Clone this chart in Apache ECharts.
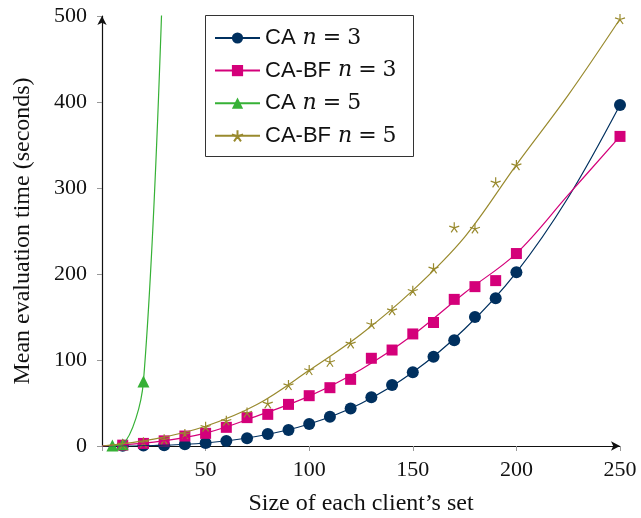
<!DOCTYPE html>
<html>
<head>
<meta charset="utf-8">
<script src="https://cdn.jsdelivr.net/npm/echarts@6/dist/echarts.min.js"></script>
<style>
  html, body { margin: 0; padding: 0; background: #fff; }
  #chart { width: 641px; height: 518px; }
</style>
</head>
<body>
<div id="chart"></div>
<script>
// 标记点：x（每个客户端集合大小）
const sizesN3 = [10, 20, 30, 40, 50, 60, 70, 80, 90, 100, 110, 120, 130, 140, 150, 160, 170, 180, 190, 200, 250]
const sizesN5 = [5, 10, 20, 30]

// 标记点：平均评估时间（秒）
const caN3 = [0.3, 0.5, 0.8, 2, 3.5, 5.8, 8.9, 14, 18.6, 25.6, 34, 43.6, 56.6, 70.8, 85.7, 103.8, 123, 150, 171.7, 202, 396.5]
const bfN3 = [1, 3, 6, 11.6, 14.7, 21.7, 33, 36.8, 48.4, 58.5, 67.8, 77.5, 102, 111.6, 130.3, 143.6, 170.5, 185.3, 192.3, 223.8, 360]
const caN5 = [0.5, 2, 75, 600]
const bfN5 = [2, 4.3, 7.8, 14, 22.5, 29.5, 39, 49.6, 70.9, 88.4, 98, 119.4, 141.9, 158, 180.6, 206.6, 254.3, 253, 306.6, 326.7, 496.5]

// 曲线（从图上读取的平滑曲线位置）
const curveXs = [0, 25, 50, 75, 100, 125, 150, 175, 200, 225, 250]
const curveCaN3 = [0, 0.6, 3.5, 11.3, 25.6, 49.5, 85.7, 136, 202, 289, 396.5]
const curveBfN3 = [0, 4.5, 15, 35, 58, 89, 129, 178, 224, 292, 360]
const curveBfN5 = [0, 8, 23, 48.5, 88, 130, 181, 243, 327, 408, 496.5]

const xTicks = [50, 100, 150, 200, 250]
const yTicks = [0, 100, 200, 300, 400, 500]

const colors = { navy: '#00305f', pink: '#d4007a', green: '#36b136', olive: '#998a2e' }

const serif = 'Liberation Serif'
const sans = 'Liberation Sans'
const math = 'DejaVu Serif'

const pairs = (xs, ys) => xs.map((x, i) => [x, ys[i]])

const starPath = 'path://M0,-1L0,0M0,0L0.951,-0.309M0,0L0.588,0.809M0,0L-0.588,0.809M0,0L-0.951,-0.309'

const baseAxis = {
  type: 'value',
  splitLine: { show: false },
  axisTick: { show: true, length: 5, lineStyle: { color: '#999', width: 1 } }
}

const makeSeries = (name, color, symbol, size, lineData, markData, starLike) => {
  const itemStyle = starLike
    ? { color: 'rgba(0,0,0,0)', borderColor: color, borderWidth: 1.2, opacity: 1 }
    : { color: color, opacity: 1 }
  return [{
    name, type: 'line', smooth: 0.35,
    data: lineData,
    symbol, symbolSize: size, showSymbol: false,
    color,
    lineStyle: { color, width: 1.2 },
    itemStyle
  }, {
    name, type: 'scatter',
    data: markData,
    symbol, symbolSize: size,
    color,
    itemStyle
  }]
}

const chart = echarts.init(document.getElementById('chart'))
chart.setOption({
  animation: false,
  grid: { left: 102, right: 21, top: 16, bottom: 72, containLabel: false, outerBoundsMode: 'none' },
  graphic: [{
    type: 'rect',
    shape: { x: 205.5, y: 15.5, width: 208, height: 141 },
    style: { fill: '#fff', stroke: '#333', lineWidth: 1 },
    z: 90
  }],
  legend: {
    orient: 'vertical',
    left: 214,
    top: 26,
    padding: 0,
    itemWidth: 45,
    itemHeight: 14,
    itemGap: 8.6,
    z: 100,
    data: ['CA n = 3', 'CA-BF n = 3', 'CA n = 5', 'CA-BF n = 5'],
    formatter: (name) => {
      const [pre, num] = name.split(' n = ')
      return '{s|' + pre + '}{i|n}{m|=}{d|' + num + '}'
    },
    textStyle: {
      lineHeight: 24,
      rich: {
        s: { fontFamily: sans, fontSize: 22, color: '#111' },
        i: { fontFamily: math, fontStyle: 'italic', fontSize: 22, color: '#111', padding: [0, 6, 0, 7] },
        m: { fontFamily: math, fontSize: 22, color: '#111', padding: [0, 6, 0, 0] },
        d: { fontFamily: math, fontSize: 22, color: '#111' }
      }
    }
  },
  xAxis: [{
    ...baseAxis,
    min: 0, max: 250, interval: 50,
    name: 'Size of each client’s set',
    nameLocation: 'middle',
    nameGap: 46,
    nameTextStyle: { fontFamily: serif, fontSize: 24, color: '#111' },
    axisLine: { show: true, symbol: ['none', 'arrow'], symbolSize: [7, 9], lineStyle: { color: '#111', width: 1.2 } },
    axisLabel: {
      fontFamily: serif, fontSize: 22, color: '#111', margin: 13,
      formatter: (v) => (xTicks.includes(v) ? String(v) : '')
    }
  }, {
    ...baseAxis,
    min: 0, max: 250, interval: 50,
    axisLine: { show: false },
    axisLabel: { show: false },
    axisTick: { show: true, inside: true, length: 5, lineStyle: { color: '#999', width: 1 } }
  }],
  yAxis: [{
    ...baseAxis,
    min: 0, max: 500, interval: 100,
    name: 'Mean evaluation time (seconds)',
    nameLocation: 'middle',
    nameGap: 67,
    nameTextStyle: { fontFamily: serif, fontSize: 24, color: '#111' },
    axisLine: { show: true, symbol: ['none', 'arrow'], symbolSize: [7, 9], lineStyle: { color: '#111', width: 1.2 } },
    axisLabel: {
      fontFamily: serif, fontSize: 22, color: '#111', margin: 15,
      formatter: (v) => (yTicks.includes(v) ? String(v) : '')
    }
  }, {
    ...baseAxis,
    min: 0, max: 500, interval: 100,
    axisLine: { show: false },
    axisLabel: { show: false },
    axisTick: { show: true, inside: true, length: 5, lineStyle: { color: '#999', width: 1 } }
  }],
  series: [
    ...makeSeries('CA n = 3', colors.navy, 'circle', 12, pairs(curveXs, curveCaN3), pairs(sizesN3, caN3), false),
    ...makeSeries('CA-BF n = 3', colors.pink, 'rect', 11, pairs(curveXs, curveBfN3), pairs(sizesN3, bfN3), false),
    ...makeSeries('CA n = 5', colors.green, 'triangle', 12, pairs(sizesN5, caN5), pairs(sizesN5, caN5), false),
    ...makeSeries('CA-BF n = 5', colors.olive, starPath, 10, pairs(curveXs, curveBfN5), pairs(sizesN3, bfN5), true)
  ]
})
</script>
</body>
</html>
